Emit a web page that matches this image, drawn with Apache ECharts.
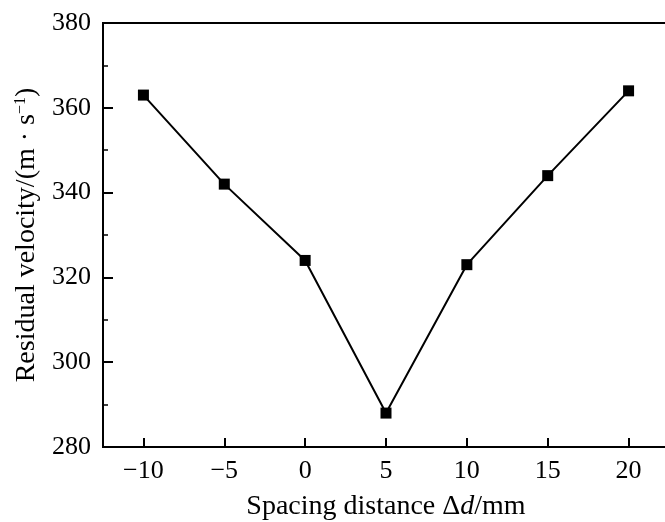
<!DOCTYPE html>
<html><head><meta charset="utf-8">
<script src="https://cdn.jsdelivr.net/npm/echarts@6/dist/echarts.min.js"></script>
<style>html,body{margin:0;padding:0;background:#fff}#c{width:665px;height:522px}</style>
</head><body><div id="c"></div>
<script>
const spacing = [-10, -5, 0, 5, 10, 15, 20];
const velocity = [363, 342, 324, 288, 323, 344, 364];
const xTicks = [-10, -5, 0, 5, 10, 15, 20];
const yTicks = [280, 300, 320, 340, 360, 380];

const F = '"Liberation Serif","DejaVu Serif",serif';
const chart = echarts.init(document.getElementById('c'));
chart.setOption({
  animation: false,
  backgroundColor: '#fff',
  grid: { left: 103, right: -4, top: 23, bottom: 75, outerBoundsMode: 'none', containLabel: false,
    show: true, borderColor: '#000', borderWidth: 2, backgroundColor: 'transparent' },
  xAxis: {
    type: 'value', min: -12.5, max: 22.5, interval: 5,
    axisLine: { onZero: false, lineStyle: { color: '#000', width: 2 } },
    axisTick: { inside: true, length: 9, lineStyle: { color: '#000', width: 2 }, customValues: xTicks },
    splitLine: { show: false },
    axisLabel: { color: '#000', fontFamily: F, fontSize: 26, margin: 11, customValues: xTicks,
      formatter: v => String(v).replace('-', '\u2212') },
    name: '{a|Spacing distance \u0394}{i|d}{a|/mm}',
    nameLocation: 'middle', nameGap: 46,
    nameTextStyle: { rich: {
      a: { fontFamily: F, fontSize: 28, color: '#000' },
      i: { fontFamily: F, fontSize: 28, color: '#000', fontStyle: 'italic' } } }
  },
  yAxis: {
    type: 'value', min: 280, max: 380, interval: 20,
    axisLine: { onZero: false, lineStyle: { color: '#000', width: 2 } },
    axisTick: { inside: true, length: 10, lineStyle: { color: '#000', width: 2 }, customValues: yTicks },
    minorTick: { show: true, splitNumber: 2, length: 5, lineStyle: { color: '#000', width: 1.5 } },
    splitLine: { show: false },
    axisLabel: { color: '#000', fontFamily: F, fontSize: 26, margin: 12, customValues: yTicks },
    name: '{a|Residual velocity/(m \u00b7 s}{s|\u22121}{a|)}',
    nameLocation: 'middle', nameGap: 61, nameRotate: 90,
    nameTextStyle: { rich: {
      a: { fontFamily: F, fontSize: 28, color: '#000' },
      s: { fontFamily: F, fontSize: 16, color: '#000', verticalAlign: 'top', padding: [0, 0, 12, 0] } } }
  },
  series: [{
    type: 'line',
    data: spacing.map((x, i) => [x, velocity[i]]),
    symbol: 'rect', symbolSize: 11,
    itemStyle: { color: '#000' },
    lineStyle: { color: '#000', width: 2 }
  }]
});
</script></body></html>
